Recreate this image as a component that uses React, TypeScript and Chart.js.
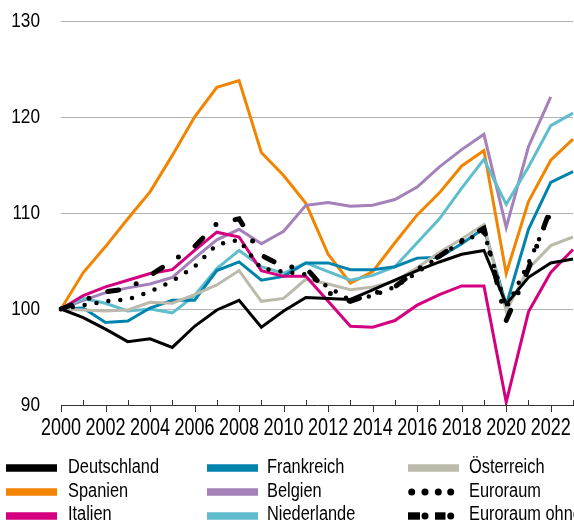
import { useEffect, useRef } from "react";
import { Chart, registerables } from "chart.js";

Chart.register(...registerables);

const years = [
  "2000", "2001", "2002", "2003", "2004", "2005", "2006", "2007", "2008", "2009", "2010", "2011",
  "2012", "2013", "2014", "2015", "2016", "2017", "2018", "2019", "2020", "2021", "2022", "2023",
];
const xTickLabels = ["2000", "2002", "2004", "2006", "2008", "2010", "2012", "2014", "2016", "2018", "2020", "2022"];
const yTickValues = [90, 100, 110, 120, 130];

const deutschland = [100, 99.1, 97.9, 96.6, 96.9, 96.0, 98.2, 99.9, 100.9, 98.1, 99.8, 101.2, 101.1, 101.0, 102.0, 103.0, 104.0, 104.9, 105.7, 106.1, 100.5, 103.3, 104.8, 105.2];
const spanien = [100, 103.8, 106.5, 109.4, 112.2, 116.0, 120.0, 123.1, 123.8, 116.3, 113.9, 111.0, 105.7, 102.7, 103.9, 106.9, 109.8, 112.1, 114.9, 116.5, 103.7, 111.2, 115.5, 117.7];
const italien = [100, 101.4, 102.3, 103.0, 103.7, 104.1, 106.1, 108.0, 107.5, 104.0, 103.4, 103.4, 100.8, 98.2, 98.1, 98.8, 100.4, 101.5, 102.4, 102.4, 90.3, 99.7, 103.8, 106.2];
const frankreich = [100, 100.1, 98.6, 98.75, 100.1, 100.9, 100.9, 104.0, 104.9, 103.0, 103.4, 104.8, 104.8, 104.1, 104.1, 104.4, 105.3, 105.4, 106.8, 108.4, 100.4, 108.3, 113.2, 114.3];
const belgien = [100, 100.9, 101.7, 102.2, 102.6, 103.3, 105.3, 107.2, 108.3, 106.8, 108.1, 110.8, 111.1, 110.7, 110.8, 111.4, 112.7, 114.8, 116.6, 118.2, 108.5, 116.9, 122.1, null];
const niederlande = [100, 101.1, 100.6, 99.8, 100.0, 99.6, 101.4, 104.2, 106.1, 104.4, 103.7, 104.8, 103.9, 103.0, 103.5, 104.4, 106.9, 109.4, 112.6, 115.6, 110.9, 114.8, 119.1, 120.4];
const oesterreich = [100, 99.9, 99.8, 99.9, 100.7, 100.6, 101.5, 102.5, 104.0, 100.8, 101.1, 103.1, 102.6, 102.0, 102.3, 102.9, 104.3, 105.9, 107.3, 108.8, 99.8, 104.2, 106.6, 107.5];
const euroraum = [100, 100.4, 100.8, 101.0, 101.8, 102.9, 104.4, 106.7, 107.2, 104.2, 103.9, 103.6, 102.3, 100.9, 101.4, 102.3, 103.8, 105.5, 107.0, 108.0, 100.1, 104.8, 110.0, null];
const euroraumOhne = [100, 100.9, 101.8, 102.1, 103.5, 105.0, 106.5, 108.9, 109.4, 105.6, 104.4, 104.3, 101.7, 100.8, 101.6, 102.3, 104.1, 105.5, 107.1, 108.4, 98.8, 104.2, 110.5, null];

const FONT = '"Liberation Sans", Arial, sans-serif';

const C_DE = "#000000";
const C_ES = "#f18400";
const C_IT = "#d5007f";
const C_FR = "#0083ad";
const C_BE = "#a481b8";
const C_NL = "#5fbdcd";
const C_AT = "#bcbaab";

// draws the x tick marks (labelled years below the axis, others above) and
// the condensed axis labels
const axisDecor = {
  id: "axisDecor",
  afterDraw(chart: any) {
    const xs = chart.scales.x;
    const ys = chart.scales.y;
    const ctx = chart.ctx;
    const y0 = chart.chartArea.bottom;
    const left = chart.chartArea.left;
    ctx.save();
    ctx.strokeStyle = "#333";
    ctx.lineWidth = 1;
    for (let i = 0; i < years.length; i++) {
      const x = Math.round(xs.getPixelForTick(i)) + 0.5;
      ctx.beginPath();
      if (xTickLabels.includes(years[i])) {
        ctx.moveTo(x, y0);
        ctx.lineTo(x, y0 + 7);
      } else {
        ctx.moveTo(x, y0 - 5);
        ctx.lineTo(x, y0);
      }
      ctx.stroke();
    }
    ctx.fillStyle = "#000";
    ctx.font = "20.5px " + FONT;
    ctx.textAlign = "right";
    ctx.textBaseline = "middle";
    for (const v of yTickValues) {
      const y = ys.getPixelForValue(v);
      ctx.save();
      ctx.translate(left - 21, y);
      ctx.scale(0.84, 1);
      ctx.fillText(String(v), 0, 0);
      ctx.restore();
    }
    ctx.font = "24px " + FONT;
    ctx.textAlign = "center";
    ctx.textBaseline = "alphabetic";
    for (let i = 0; i < years.length; i++) {
      if (!xTickLabels.includes(years[i])) continue;
      const x = xs.getPixelForTick(i);
      ctx.save();
      ctx.translate(x, y0 + 30);
      ctx.scale(0.75, 1);
      ctx.fillText(years[i], 0, 0);
      ctx.restore();
    }
    ctx.restore();
  },
};

function solid(label: string, data: (number | null)[], color: string, order: number) {
  return {
    label,
    data,
    borderColor: color,
    backgroundColor: color,
    borderWidth: 3,
    pointRadius: 0,
    tension: 0,
    borderJoinStyle: "miter" as const,
    order,
  };
}

type LegendItem = { label: string; color: string; kind: "solid" | "dot" | "dashdot" };
const legendRows: LegendItem[][] = [
  [
    { label: "Deutschland", color: C_DE, kind: "solid" },
    { label: "Frankreich", color: C_FR, kind: "solid" },
    { label: "Österreich", color: C_AT, kind: "solid" },
  ],
  [
    { label: "Spanien", color: C_ES, kind: "solid" },
    { label: "Belgien", color: C_BE, kind: "solid" },
    { label: "Euroraum", color: "#000", kind: "dot" },
  ],
  [
    { label: "Italien", color: C_IT, kind: "solid" },
    { label: "Niederlande", color: C_NL, kind: "solid" },
    { label: "Euroraum ohne Deutschland", color: "#000", kind: "dashdot" },
  ],
];
const swatchX = [6, 207, 408];
const textX = [68, 267, 469];
const swatchY = [468, 492, 516];
const textY = [465.5, 489.5, 513];

function Swatch({ item, left, cy }: { item: LegendItem; left: number; cy: number }) {
  const style = { position: "absolute" as const, left, top: cy - 6, display: "block" };
  if (item.kind === "solid") {
    return (
      <svg width={51} height={12} style={style}>
        <rect x={0} y={2.25} width={51} height={7.5} fill={item.color} />
      </svg>
    );
  }
  if (item.kind === "dot") {
    return (
      <svg width={51} height={12} style={style}>
        {[3.7, 17, 30.3, 42.7].map((cx) => (
          <circle key={cx} cx={cx} cy={6} r={3.5} fill="#000" />
        ))}
      </svg>
    );
  }
  return (
    <svg width={51} height={12} style={style}>
      <rect x={0} y={2.3} width={12} height={7.4} fill="#000" />
      <circle cx={17} cy={6} r={3.5} fill="#000" />
      <rect x={27} y={2.3} width={10.5} height={7.4} fill="#000" />
      <circle cx={42.7} cy={6} r={3.5} fill="#000" />
    </svg>
  );
}

export default function App() {
  const ref = useRef<HTMLCanvasElement>(null);

  useEffect(() => {
    if (!ref.current) return;
    const chart = new Chart(ref.current, {
      type: "line",
      data: {
        labels: years,
        datasets: [
          {
            label: "Euroraum ohne Deutschland",
            data: euroraumOhne,
            borderColor: "#000",
            backgroundColor: "#000",
            borderWidth: 5,
            borderDash: [11, 19, 0, 20],
            borderCapStyle: "round" as const,
            pointRadius: 0,
            tension: 0,
            order: 0,
          },
          {
            label: "Euroraum",
            data: euroraum,
            borderColor: "#000",
            backgroundColor: "#000",
            borderWidth: 4.5,
            borderDash: [0, 12],
            borderCapStyle: "round" as const,
            pointRadius: 0,
            tension: 0,
            order: 1,
          },
          solid("Deutschland", deutschland, C_DE, 2),
          solid("Italien", italien, C_IT, 3),
          solid("Österreich", oesterreich, C_AT, 4),
          solid("Frankreich", frankreich, C_FR, 5),
          solid("Niederlande", niederlande, C_NL, 6),
          solid("Belgien", belgien, C_BE, 7),
          solid("Spanien", spanien, C_ES, 8),
        ],
      },
      options: {
        animation: false,
        responsive: false,
        maintainAspectRatio: false,
        layout: { autoPadding: false, padding: { top: 21, right: 1, bottom: 82, left: 0 } },
        plugins: {
          legend: { display: false },
          tooltip: { enabled: false },
        },
        scales: {
          x: {
            type: "category",
            offset: false,
            grid: { display: false, drawTicks: false },
            border: { display: true, color: "#333", width: 1 },
            ticks: { display: false, autoSkip: false, maxRotation: 0, minRotation: 0 },
            afterFit: (s: any) => {
              s.height = 40;
              s.paddingLeft = 0;
              s.paddingRight = 0;
              s.paddingTop = 0;
              s.paddingBottom = 0;
            },
          },
          y: {
            min: 90,
            max: 130,
            afterBuildTicks: (s: any) => {
              s.ticks = yTickValues.map((v) => ({ value: v }));
            },
            grid: {
              drawTicks: false,
              color: (c: any) => (c.tick && c.tick.value === 90 ? "rgba(0,0,0,0)" : "#b3b3b3"),
              lineWidth: 1,
            },
            border: { display: false },
            ticks: { display: false },
            afterFit: (s: any) => {
              s.width = 61;
              s.paddingLeft = 0;
              s.paddingRight = 0;
              s.paddingTop = 0;
              s.paddingBottom = 0;
            },
          },
        },
      },
      plugins: [axisDecor],
    });
    return () => chart.destroy();
  }, []);

  return (
    <div style={{ position: "fixed", left: 0, top: 0, width: 574, height: 527, overflow: "hidden", background: "#fff" }}>
      <canvas ref={ref} width={574} height={527} style={{ position: "absolute", left: 0, top: 0, width: 574, height: 527 }} />
      {legendRows.map((row, r) =>
        row.map((item, c) => (
          <div key={item.label}>
            <Swatch item={item} left={swatchX[c]} cy={swatchY[r]} />
            <span
              style={{
                position: "absolute",
                left: textX[c],
                top: textY[r] - 9.8,
                lineHeight: "20px",
                whiteSpace: "nowrap",
                fontFamily: FONT,
                fontSize: 19.5,
                color: "#000",
                transform: "scaleX(0.84)",
                transformOrigin: "left center",
              }}
            >
              {item.label}
            </span>
          </div>
        ))
      )}
    </div>
  );
}
